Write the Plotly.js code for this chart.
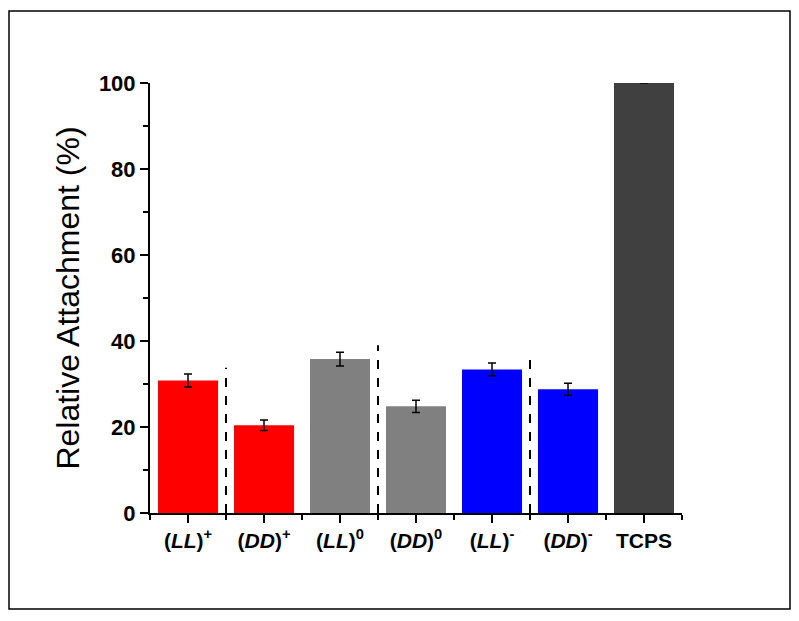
<!DOCTYPE html>
<html>
<head>
<meta charset="utf-8">
<script src="https://cdn.plot.ly/plotly-3.0.1.min.js"></script>
<style>
html,body{margin:0;padding:0;background:#fff;}
#chart{width:799px;height:621px;}
</style>
</head>
<body>
<div id="chart"></div>
<script>
// Data
const categories = ["(LL)+", "(DD)+", "(LL)0", "(DD)0", "(LL)-", "(DD)-", "TCPS"];
const tickLabels = [
  "<b>(<i>LL</i>)<sup>+</sup></b>",
  "<b>(<i>DD</i>)<sup>+</sup></b>",
  "<b>(<i>LL</i>)<sup>0</sup></b>",
  "<b>(<i>DD</i>)<sup>0</sup></b>",
  "<b>(<i>LL</i>)<sup>-</sup></b>",
  "<b>(<i>DD</i>)<sup>-</sup></b>",
  "<b>TCPS</b>"
];
const values = [30.8, 20.4, 35.8, 24.8, 33.4, 28.8, 100];
const errors = [1.5, 1.2, 1.6, 1.4, 1.5, 1.4, 0];
const barColors = ["#FF0000", "#FF0000", "#808080", "#808080", "#0000FF", "#0000FF", "#404040"];
const separatorPositions = [0.5, 2.5, 4.5];
const separatorHeights = [33.8, 39.0, 37.4];

const xs = categories.map((c, i) => i);

const trace = {
  type: "bar",
  x: xs,
  y: values,
  width: 0.79,
  marker: { color: barColors, line: { width: 0 } },
  error_y: {
    type: "data",
    array: errors,
    visible: true,
    color: "#000000",
    thickness: 1.5,
    width: 4
  },
  hoverinfo: "skip"
};

const shapes = separatorPositions.map((p, i) => ({
  type: "line",
  xref: "x", yref: "y",
  x0: p, x1: p, y0: 0, y1: separatorHeights[i],
  line: { color: "#000000", width: 2, dash: "dash" },
  layer: "above"
}));

// outer frame
shapes.push({
  type: "rect", xref: "paper", yref: "paper",
  x0: (9 - 150) / 532, x1: (790 - 150) / 532,
  y0: (513 - 609) / 430, y1: (513 - 11) / 430,
  line: { color: "#000000", width: 1.5 },
  fillcolor: "rgba(0,0,0,0)",
  layer: "below"
});

const layout = {
  width: 799,
  height: 621,
  margin: { l: 150, r: 117, t: 83, b: 108 },
  paper_bgcolor: "#ffffff",
  plot_bgcolor: "#ffffff",
  showlegend: false,
  font: { family: "Liberation Sans, Arial, sans-serif", color: "#000000" },
  xaxis: {
    range: [-0.5, 6.5],
    tickvals: xs,
    ticktext: tickLabels,
    tickfont: { size: 21, family: "Liberation Sans, Arial, sans-serif", color: "#000" },
    showline: true, linecolor: "#000", linewidth: 2,
    ticks: "outside", ticklen: 8, tickwidth: 2, tickcolor: "#000",
    minor: { tick0: 0.5, dtick: 1, ticks: "outside", ticklen: 5, tickwidth: 2, tickcolor: "#000" },
    showgrid: false, zeroline: false, fixedrange: true
  },
  yaxis: {
    range: [0, 100],
    tick0: 0, dtick: 20,
    tickfont: { size: 22, family: "Liberation Sans, Arial, sans-serif", color: "#000", weight: "bold" },
    showline: true, linecolor: "#000", linewidth: 2,
    ticks: "outside", ticklen: 8, tickwidth: 2, tickcolor: "#000",
    minor: { dtick: 10, ticks: "outside", ticklen: 5, tickwidth: 2, tickcolor: "#000" },
    showgrid: false, zeroline: false, fixedrange: true,
    title: { text: "Relative Attachment (%)", font: { size: 32, family: "Liberation Sans, Arial, sans-serif", color: "#000" }, standoff: 10 }
  },
  shapes: shapes
};

Plotly.newPlot("chart", [trace], layout, { displayModeBar: false, staticPlot: true });
</script>
</body>
</html>
